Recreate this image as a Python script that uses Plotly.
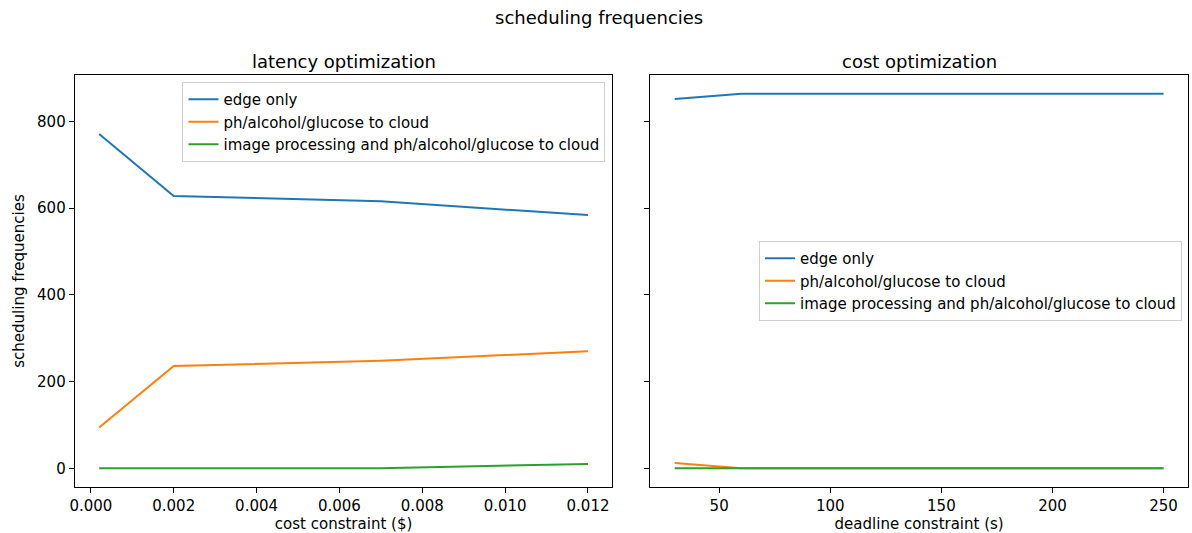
import plotly.graph_objects as go

# Left panel: latency optimization
cost_x = [0.0002, 0.002, 0.007, 0.012]
lat_edge = [771, 628, 616, 584]
lat_ph = [94, 236, 248, 270]
lat_img = [0, 0, 0, 10]

# Right panel: cost optimization
deadline_x = [30, 60, 90, 120, 150, 180, 210, 250]
cost_edge = [852, 864, 864, 864, 864, 864, 864, 864]
cost_ph = [12, 0, 0, 0, 0, 0, 0, 0]
cost_img = [0, 0, 0, 0, 0, 0, 0, 0]

series_names = ["edge only", "ph/alcohol/glucose to cloud",
                "image processing and ph/alcohol/glucose to cloud"]
colors = ["#1f77b4", "#ff7f0e", "#2ca02c"]

FONT = "DejaVu Sans"
W, H = 1192, 533
FS = 15

fig = go.Figure()
for name, ys, c in zip(series_names, [lat_edge, lat_ph, lat_img], colors):
    fig.add_trace(go.Scatter(x=cost_x, y=ys, mode="lines", name=name,
                             line=dict(color=c, width=2),
                             xaxis="x", yaxis="y", legend="legend"))
for name, ys, c in zip(series_names, [cost_edge, cost_ph, cost_img], colors):
    fig.add_trace(go.Scatter(x=deadline_x, y=ys, mode="lines", name=name,
                             line=dict(color=c, width=2),
                             xaxis="x2", yaxis="y2", legend="legend2"))

ydom = [1 - 487 / H, 1 - 75 / H]
axis_common = dict(showline=True, linecolor="black", linewidth=1, mirror=True,
                   ticks="outside", ticklen=5, tickcolor="black", tickwidth=1,
                   showgrid=False, zeroline=False,
                   tickfont=dict(family=FONT, size=FS, color="black"))

fig.update_layout(
    width=W, height=H,
    margin=dict(l=0, r=0, t=0, b=0),
    paper_bgcolor="white", plot_bgcolor="white",
    font=dict(family=FONT, color="black"),
    xaxis=dict(domain=[70 / W, 610 / W], range=[-0.00039, 0.01259],
               dtick=0.002, tick0=0, tickformat=".3f", anchor="y",
               title=dict(text="cost constraint ($)", font=dict(size=FS, family=FONT), standoff=4),
               **axis_common),
    yaxis=dict(domain=ydom, range=[-43.2, 907.2], dtick=200, anchor="x",
               title=dict(text="scheduling frequencies", font=dict(size=FS, family=FONT), standoff=8),
               **axis_common),
    xaxis2=dict(domain=[648 / W, 1188 / W], range=[19, 261], dtick=50, tick0=0,
                anchor="y2",
                title=dict(text="deadline constraint (s)", font=dict(size=FS, family=FONT), standoff=4),
                **axis_common),
    yaxis2=dict(domain=ydom, range=[-43.2, 907.2], dtick=200, anchor="x2",
                showticklabels=False, **{k: v for k, v in axis_common.items() if k != "tickfont"}),
    legend=dict(x=603 / W, xanchor="right", y=1 - 82 / H, yanchor="top",
                bgcolor="rgba(255,255,255,0.8)", bordercolor="#d0d0d0", borderwidth=1,
                font=dict(family=FONT, size=FS, color="black"), tracegroupgap=0),
    legend2=dict(x=1182 / W, xanchor="right", y=1 - 281 / H, yanchor="middle",
                 bgcolor="rgba(255,255,255,0.8)", bordercolor="#d0d0d0", borderwidth=1,
                 font=dict(family=FONT, size=FS, color="black"), tracegroupgap=0),
    annotations=[
        dict(text="scheduling frequencies", x=0.5, y=1 - 18 / H, xref="paper", yref="paper",
             showarrow=False, font=dict(family=FONT, size=18, color="black"),
             xanchor="center", yanchor="middle"),
        dict(text="latency optimization", x=340 / W, y=1 - 62 / H, xref="paper", yref="paper",
             showarrow=False, font=dict(family=FONT, size=18, color="black"),
             xanchor="center", yanchor="middle"),
        dict(text="cost optimization", x=918 / W, y=1 - 62 / H, xref="paper", yref="paper",
             showarrow=False, font=dict(family=FONT, size=18, color="black"),
             xanchor="center", yanchor="middle"),
    ],
)

fig.write_html("out.html")
